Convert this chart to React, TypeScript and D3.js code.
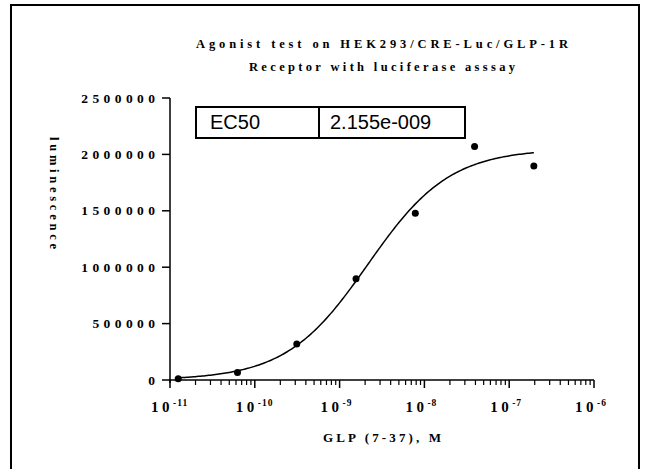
import React, { useEffect, useRef } from 'react'
import * as d3 from 'd3'

// GLP (7-37) concentrations (M) and luminescence readings
const concentrations = [1.25e-11, 6.25e-11, 3.125e-10, 1.5625e-9, 7.8125e-9, 3.90625e-8, 1.953125e-7]
const luminescence = [11500, 66500, 319000, 898000, 1478000, 2070000, 1897000]

// fitted 4PL curve parameters
const ec50 = 2.155e-9
const fitBottom = 0
const fitTop = 2050000
const hillSlope = 0.9

const yTicks = [0, 500000, 1000000, 1500000, 2000000, 2500000]
const xDecades = [-11, -10, -9, -8, -7, -6]
const titleLines = ['Agonist test on HEK293/CRE-Luc/GLP-1R', 'Receptor with luciferase asssay']

const serif = '"Liberation Serif", "Times New Roman", serif'

export default function App() {
    const ref = useRef<SVGSVGElement>(null)

    useEffect(() => {
        const svg = d3.select(ref.current)
        svg.selectAll('*').remove()

        const x = d3.scaleLog().domain([1e-11, 1e-6]).range([170, 594])
        const y = d3.scaleLinear().domain([0, 2500000]).range([380, 98])

        // outer frame
        svg.append('path')
            .attr('d', 'M11,480 L11,5 L639,5 L639,480')
            .attr('fill', 'none')
            .attr('stroke', '#000')
            .attr('stroke-width', 2)

        // title
        svg.selectAll('text.title')
            .data(titleLines)
            .enter()
            .append('text')
            .attr('class', 'title')
            .attr('x', 382)
            .attr('y', (d, i) => 48 + i * 23)
            .attr('text-anchor', 'middle')
            .attr('font-family', serif)
            .attr('font-weight', 'bold')
            .attr('font-size', 12.5)
            .attr('textLength', (d, i) => (i === 0 ? 372 : 266))
            .attr('lengthAdjust', 'spacing')
            .text(d => d)

        // y axis
        const ya = svg.append('g')
        ya.append('line')
            .attr('x1', x(1e-11)).attr('x2', x(1e-11))
            .attr('y1', y(2500000)).attr('y2', y(0) + 3)
            .attr('stroke', '#000').attr('stroke-width', 1.5)
        ya.selectAll('line.tick')
            .data(yTicks)
            .enter()
            .append('line')
            .attr('class', 'tick')
            .attr('x1', x(1e-11) - 8).attr('x2', x(1e-11))
            .attr('y1', d => y(d)).attr('y2', d => y(d))
            .attr('stroke', '#000').attr('stroke-width', 1.5)
        ya.selectAll('text')
            .data(yTicks)
            .enter()
            .append('text')
            .attr('x', 155)
            .attr('y', d => y(d) + 4.5)
            .attr('text-anchor', 'end')
            .attr('font-family', serif)
            .attr('font-weight', 'bold')
            .attr('font-size', 13.5)
            .attr('textLength', d => String(d).length * 11.1 - 4)
            .attr('lengthAdjust', 'spacing')
            .text(d => String(d))

        // x axis
        const xa = svg.append('g')
        xa.append('line')
            .attr('x1', x(1e-11) - 1).attr('x2', x(1e-6))
            .attr('y1', y(0)).attr('y2', y(0))
            .attr('stroke', '#000').attr('stroke-width', 1.5)
        const minor: number[] = []
        xDecades.slice(0, -1).forEach(e => {
            for (let m = 2; m <= 9; m++) minor.push(m * Math.pow(10, e))
        })
        xa.selectAll('line.minor')
            .data(minor)
            .enter()
            .append('line')
            .attr('class', 'minor')
            .attr('x1', d => x(d)).attr('x2', d => x(d))
            .attr('y1', y(0)).attr('y2', y(0) + 5)
            .attr('stroke', '#000').attr('stroke-width', 1.2)
        xa.selectAll('line.major')
            .data(xDecades)
            .enter()
            .append('line')
            .attr('class', 'major')
            .attr('x1', d => x(Math.pow(10, d))).attr('x2', d => x(Math.pow(10, d)))
            .attr('y1', y(0)).attr('y2', y(0) + 8)
            .attr('stroke', '#000').attr('stroke-width', 1.5)
        const lab = xa.selectAll('text.xlab')
            .data(xDecades)
            .enter()
            .append('text')
            .attr('class', 'xlab')
            .attr('x', d => x(Math.pow(10, d)) - 19)
            .attr('y', 412)
            .attr('font-family', serif)
            .attr('font-weight', 'bold')
            .attr('font-size', 15)
        lab.append('tspan').attr('letter-spacing', 3.5).text('10')
        lab.append('tspan')
            .attr('font-size', 9.5)
            .attr('dy', -6)
            .attr('letter-spacing', 1)
            .text(d => String(d))

        // axis titles
        svg.append('text')
            .attr('x', 382)
            .attr('y', 442)
            .attr('text-anchor', 'middle')
            .attr('font-family', serif)
            .attr('font-weight', 'bold')
            .attr('font-size', 13)
            .attr('textLength', 118)
            .attr('lengthAdjust', 'spacing')
            .text('GLP (7-37), M')
        svg.append('text')
            .attr('transform', 'translate(50,193) rotate(90)')
            .attr('text-anchor', 'middle')
            .attr('font-family', serif)
            .attr('font-weight', 'bold')
            .attr('font-size', 12.5)
            .attr('textLength', 112)
            .attr('lengthAdjust', 'spacing')
            .text('luminescence')

        // fitted curve, drawn over the tested concentration range
        const fit = (c: number) => fitBottom + (fitTop - fitBottom) / (1 + Math.pow(ec50 / c, hillSlope))
        const [cMin, cMax] = d3.extent(concentrations) as [number, number]
        const curveX = d3.range(Math.log10(cMin), Math.log10(cMax), 0.02)
            .map(e => Math.pow(10, e)).concat([cMax])
        svg.append('path')
            .datum(curveX)
            .attr('d', d3.line<number>().x(d => x(d)).y(d => y(fit(d))))
            .attr('fill', 'none')
            .attr('stroke', '#000')
            .attr('stroke-width', 1.5)

        // data points
        svg.selectAll('circle')
            .data(concentrations)
            .enter()
            .append('circle')
            .attr('cx', d => x(d))
            .attr('cy', (d, i) => y(luminescence[i]))
            .attr('r', 3.5)
            .attr('fill', '#000')

        // EC50 table
        const tbl = svg.append('g')
        tbl.append('rect')
            .attr('x', 196).attr('y', 107)
            .attr('width', 269).attr('height', 31)
            .attr('fill', '#fff').attr('stroke', '#000').attr('stroke-width', 2)
        tbl.append('line')
            .attr('x1', 319).attr('x2', 319).attr('y1', 107).attr('y2', 138)
            .attr('stroke', '#000').attr('stroke-width', 2)
        tbl.append('text')
            .attr('x', 210).attr('y', 129)
            .attr('font-family', '"Liberation Sans", Arial, sans-serif')
            .attr('font-size', 20)
            .text('EC50')
        tbl.append('text')
            .attr('x', 330).attr('y', 129)
            .attr('font-family', '"Liberation Sans", Arial, sans-serif')
            .attr('font-size', 20)
            .text(d3.format('.3e')(ec50).replace('e-9', 'e-009'))
    }, [])

    return (
        <svg ref={ref} width={648} height={469}
            style={{ position: 'absolute', left: 0, top: 0, background: '#fff' }} />
    )
}
